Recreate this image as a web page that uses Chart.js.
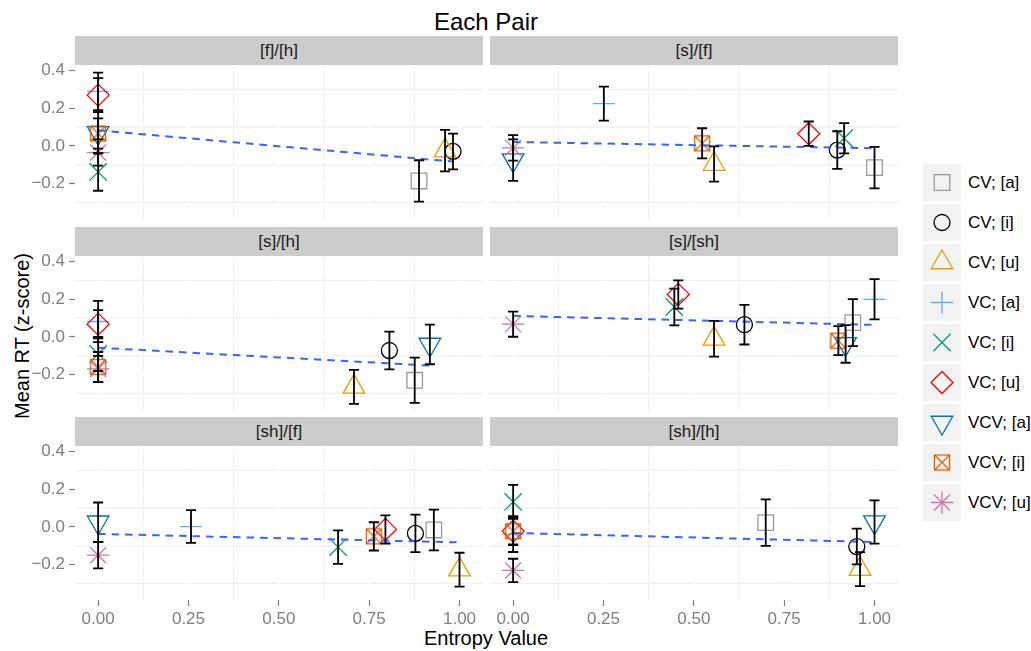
<!DOCTYPE html>
<html>
<head>
<meta charset="utf-8">
<script src="https://cdn.jsdelivr.net/npm/chart.js@4.4.1/dist/chart.umd.min.js"></script>
<style>
  body { margin: 0; background: #fff; font-family: "Liberation Sans", Arial, sans-serif; }
  #fig { position: relative; width: 1031px; height: 651px; overflow: hidden; }
  #fig canvas { position: absolute; }
  .strip { position: absolute; height: 29px; line-height: 29px; background: #ccc; color: #1a1a1a; font-size: 17px; text-align: center; }
  .title { position: absolute; left: 286px; width: 400px; top: 10px; font-size: 24px; line-height: 24px; text-align: center; }
  .xtitle { position: absolute; left: 336px; width: 300px; top: 628px; font-size: 20px; line-height: 20px; text-align: center; }
  .ytitle { position: absolute; left: -128px; top: 326px; width: 300px; font-size: 20px; line-height: 20px; text-align: center; transform: rotate(-90deg); }
  .key { position: absolute; left: 923px; width: 38px; height: 37px; background: #f2f2f2; }
  .key canvas { position: static; display: block; }
  .label { position: absolute; left: 968px; height: 37px; line-height: 37px; font-size: 17px; color: #000; white-space: nowrap; }
</style>
</head>
<body>
<div id="fig">
  <div class="title">Each Pair</div>
  <div class="xtitle">Entropy Value</div>
  <div class="ytitle">Mean RT (z-score)</div>
</div>
<script>
// series, in legend order
const seriesNames = ['CV; [a]', 'CV; [i]', 'CV; [u]', 'VC; [a]', 'VC; [i]', 'VC; [u]', 'VCV; [a]', 'VCV; [i]', 'VCV; [u]'];
const pairNames = ['[f]/[h]', '[s]/[f]', '[s]/[h]', '[s]/[sh]', '[sh]/[f]', '[sh]/[h]'];
const xTicks = [0, 0.25, 0.5, 0.75, 1];
const yTicks = [-0.2, 0, 0.2, 0.4];

// entropy (x), mean RT (y) and error bar half-width per pair, in seriesNames order
const entropyFH = [0.888, 0.982, 0.960, 0, 0, 0, 0, 0, 0];
const meanFH    = [-0.186, -0.029, -0.025, 0.29, -0.138, 0.27, 0.07, 0.066, -0.035];
const errFH     = [0.11, 0.095, 0.11, 0.10, 0.10, 0.09, 0.11, 0.08, 0.07];

const entropySF = [1.0, 0.897, 0.556, 0.251, 0.916, 0.818, 0, 0.523, 0];
const meanSF    = [-0.115, -0.022, -0.096, 0.225, 0.041, 0.065, -0.075, 0.014, -0.01];
const errSF     = [0.11, 0.10, 0.094, 0.09, 0.08, 0.065, 0.11, 0.08, 0.068];

const entropySH = [0.876, 0.806, 0.708, 0, 0, 0, 0.918, 0, 0];
const meanSH    = [-0.23, -0.072, -0.265, 0.082, -0.09, 0.068, -0.04, -0.16, -0.17];
const errSH     = [0.12, 0.10, 0.09, 0.11, 0.09, 0.075, 0.105, 0.08, 0.07];

const entropySSh = [0.94, 0.64, 0.556, 1.0, 0.446, 0.457, 0.92, 0.90, 0];
const meanSSh    = [0.076, 0.065, -0.01, 0.2, 0.159, 0.226, -0.037, -0.02, 0.068];
const errSSh     = [0.125, 0.105, 0.095, 0.107, 0.098, 0.075, 0.1, 0.077, 0.067];

const entropyShF = [0.929, 0.878, 1.0, 0.257, 0.664, 0.795, 0, 0.763, 0];
const meanShF    = [-0.016, -0.034, -0.227, 0.002, -0.107, -0.013, 0.025, -0.05, -0.15];
const errShF     = [0.108, 0.10, 0.09, 0.087, 0.089, 0.075, 0.105, 0.075, 0.07];

const entropyShH = [0.699, 0.951, 0.96, 0, 0, 0, 1.0, 0, 0];
const meanShH    = [0.023, -0.104, -0.224, -0.038, 0.133, -0.022, 0.026, -0.023, -0.231];
const errShH     = [0.124, 0.095, 0.09, 0.095, 0.09, 0.075, 0.115, 0.07, 0.062];

// linear fit, value at the lowest and highest entropy of each pair
const fitStart = [0.083, 0.021, -0.057, 0.112, -0.037, -0.032];
const fitEnd   = [-0.083, -0.012, -0.152, 0.064, -0.082, -0.080];

const panels = [
  { x: entropyFH, y: meanFH, err: errFH },
  { x: entropySF, y: meanSF, err: errSF },
  { x: entropySH, y: meanSH, err: errSH },
  { x: entropySSh, y: meanSSh, err: errSSh },
  { x: entropyShF, y: meanShF, err: errShF },
  { x: entropyShH, y: meanShH, err: errShH }
];

const FONT = '"Liberation Sans", Arial, sans-serif';
const colors = ['#999999', '#000000', '#E69F00', '#56B4E9', '#009E73', '#FF0000', '#0072B2', '#D55E00', '#CC79A7'];

// square with an x through it (ggplot shape 7)
function boxX(color) {
  const c = document.createElement('canvas');
  c.width = 18; c.height = 18;
  const g = c.getContext('2d');
  g.strokeStyle = color; g.lineWidth = 1.3;
  g.strokeRect(1.5, 1.5, 15, 15);
  g.beginPath();
  g.moveTo(1.5, 1.5); g.lineTo(16.5, 16.5);
  g.moveTo(16.5, 1.5); g.lineTo(1.5, 16.5);
  g.stroke();
  return c;
}

const shapes = [
  { style: 'rect', radius: 11 },
  { style: 'circle', radius: 8 },
  { style: 'triangle', radius: 12.5 },
  { style: 'cross', radius: 11 },
  { style: 'crossRot', radius: 12.3 },
  { style: 'rectRot', radius: 11 },
  { style: 'triangle', radius: 12.5, rotation: 180 },
  { style: boxX(colors[7]), radius: 9 },
  { style: 'star', radius: 11.3 }
];

// layout of the facet grid
const colLeft = [75, 490];
const rowTop = [65, 256, 446];
const plotW = 408, plotH = 154, stripH = 29;
const yAxisW = 45, xAxisH = 36, padTop = 10;
const xRange = [-0.064, 1.065];
const yRange = [-0.388, 0.43];

const mids = arr => arr.slice(1).map((v, i) => (v + arr[i]) / 2);

function makeDecor(panel) {
  return {
    id: 'decor',
    beforeDatasetsDraw(chart) {
      const { ctx, chartArea: a, scales: { x, y } } = chart;
      ctx.save();
      const vline = v => { const p = x.getPixelForValue(v); ctx.beginPath(); ctx.moveTo(p, a.top); ctx.lineTo(p, a.bottom); ctx.stroke(); };
      const hline = v => { const p = y.getPixelForValue(v); ctx.beginPath(); ctx.moveTo(a.left, p); ctx.lineTo(a.right, p); ctx.stroke(); };
      // minor grid first, then white major lines
      ctx.strokeStyle = '#f0f0f0'; ctx.lineWidth = 1.2;
      mids(xTicks).forEach(vline);
      mids([-0.4, ...yTicks]).forEach(hline);
      ctx.strokeStyle = '#ffffff'; ctx.lineWidth = 2;
      xTicks.forEach(vline);
      yTicks.forEach(hline);
      ctx.restore();
    },
    afterDatasetsDraw(chart) {
      const { ctx, scales: { x, y } } = chart;
      ctx.save();
      ctx.strokeStyle = '#000'; ctx.lineWidth = 1.8;
      panel.x.forEach((xv, i) => {
        const px = x.getPixelForValue(xv);
        const half = x.getPixelForValue(xv + 0.014) - px;
        const top = y.getPixelForValue(panel.y[i] + panel.err[i]);
        const bot = y.getPixelForValue(panel.y[i] - panel.err[i]);
        ctx.beginPath();
        ctx.moveTo(px, top); ctx.lineTo(px, bot);
        ctx.moveTo(px - half, top); ctx.lineTo(px + half, top);
        ctx.moveTo(px - half, bot); ctx.lineTo(px + half, bot);
        ctx.stroke();
      });
      ctx.restore();
    }
  };
}

const fig = document.getElementById('fig');

panels.forEach((panel, p) => {
  const col = p % 2, row = Math.floor(p / 2);
  const showY = col === 0, showX = row === 2;

  const strip = document.createElement('div');
  strip.className = 'strip';
  strip.style.left = colLeft[col] + 'px';
  strip.style.top = (rowTop[row] - stripH) + 'px';
  strip.style.width = plotW + 'px';
  strip.textContent = pairNames[p];
  fig.appendChild(strip);

  const cv = document.createElement('canvas');
  const w = plotW + (showY ? yAxisW : 0);
  const h = plotH + padTop + (showX ? xAxisH : 0);
  cv.width = w; cv.height = h;
  cv.style.left = (colLeft[col] - (showY ? yAxisW : 0)) + 'px';
  cv.style.top = (rowTop[row] - padTop) + 'px';
  fig.appendChild(cv);

  const datasets = seriesNames.map((name, i) => ({
    label: name,
    data: [{ x: panel.x[i], y: panel.y[i] }],
    pointStyle: shapes[i].style,
    pointRadius: shapes[i].radius,
    rotation: shapes[i].rotation || 0,
    borderColor: colors[i],
    backgroundColor: 'rgba(0,0,0,0)',
    borderWidth: 1.3,
    order: 10 - i
  }));
  const xMin = Math.min(...panel.x), xMax = Math.max(...panel.x);
  datasets.push({
    label: 'fit',
    data: [{ x: xMin, y: fitStart[p] }, { x: xMax, y: fitEnd[p] }],
    showLine: true,
    borderColor: '#3366FF',
    borderWidth: 2,
    borderDash: [7.5, 6],
    pointRadius: 0,
    order: 0
  });

  const tickFont = { family: FONT, size: 17 };
  new Chart(cv, {
    type: 'scatter',
    data: { datasets },
    plugins: [makeDecor(panel)],
    options: {
      responsive: false,
      animation: false,
      devicePixelRatio: 1,
      events: [],
      layout: { autoPadding: false, padding: { top: padTop, left: 0, right: 0, bottom: 0 } },
      plugins: { legend: { display: false }, tooltip: { enabled: false } },
      scales: {
        x: {
          type: 'linear', min: xRange[0], max: xRange[1], display: showX,
          afterBuildTicks: s => { s.ticks = xTicks.map(v => ({ value: v })); },
          afterFit: s => { s.height = showX ? xAxisH : 0; s.paddingLeft = 0; s.paddingRight = 0; },
          grid: { display: true, drawOnChartArea: false, drawTicks: true, tickLength: 6, tickColor: '#7f7f7f', tickWidth: 1.2 },
          border: { display: false },
          ticks: { color: '#7f7f7f', font: tickFont, padding: 3, maxRotation: 0, autoSkip: false,
                   callback: v => v.toFixed(2) }
        },
        y: {
          type: 'linear', min: yRange[0], max: yRange[1], display: showY,
          afterBuildTicks: s => { s.ticks = yTicks.map(v => ({ value: v })); },
          afterFit: s => { s.width = showY ? yAxisW : 0; s.paddingTop = 0; s.paddingBottom = 0; },
          grid: { display: true, drawOnChartArea: false, drawTicks: true, tickLength: 6, tickColor: '#7f7f7f', tickWidth: 1.2 },
          border: { display: false },
          ticks: { color: '#7f7f7f', font: tickFont, padding: 4, autoSkip: false,
                   callback: v => (v < -1e-9 ? '\u2212' : '') + Math.abs(v).toFixed(1) }
        }
      }
    }
  });
});

// legend
seriesNames.forEach((name, i) => {
  const top = 164 + 40 * i;
  const key = document.createElement('div');
  key.className = 'key';
  key.style.top = top + 'px';
  const kc = document.createElement('canvas');
  kc.width = 38; kc.height = 37;
  key.appendChild(kc);
  fig.appendChild(key);
  const g = kc.getContext('2d');
  g.strokeStyle = colors[i];
  g.fillStyle = 'rgba(0,0,0,0)';
  g.lineWidth = 1.3;
  if (Chart.helpers && Chart.helpers.drawPoint) {
    Chart.helpers.drawPoint(g, { pointStyle: shapes[i].style, radius: shapes[i].radius, rotation: shapes[i].rotation || 0, borderWidth: 1.3 }, 19, 18.5);
  }
  const lab = document.createElement('div');
  lab.className = 'label';
  lab.style.top = top + 'px';
  lab.textContent = name;
  fig.appendChild(lab);
});
</script>
</body>
</html>
